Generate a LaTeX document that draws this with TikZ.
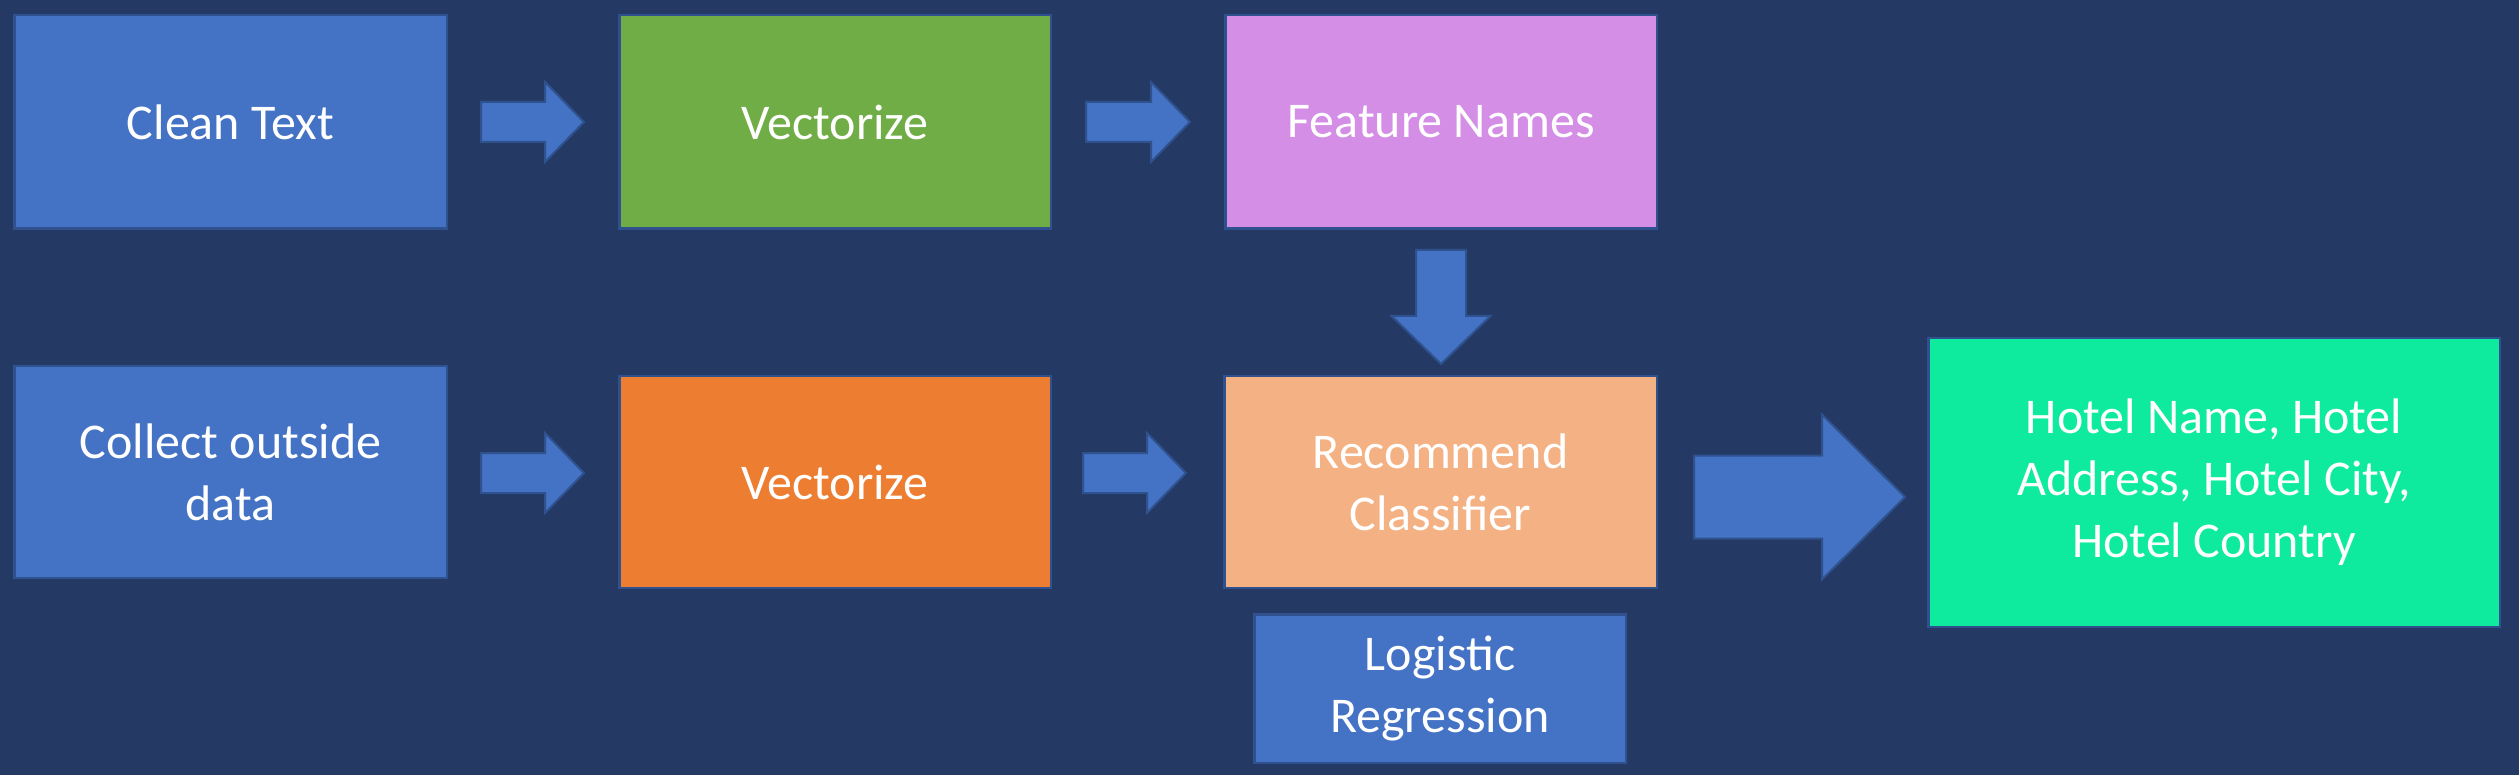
\documentclass[tikz,border=0pt]{standalone}
\usepackage{fontspec}
\setmainfont{Carlito}
\usetikzlibrary{calc}
\definecolor{bg}{RGB}{36,58,100}
\definecolor{bblue}{RGB}{68,114,196}
\definecolor{edgeblue}{RGB}{47,82,143}
\definecolor{bgreen}{RGB}{112,173,71}
\definecolor{bviolet}{RGB}{212,142,230}
\definecolor{borange}{RGB}{237,125,49}
\definecolor{bpeach}{RGB}{244,177,131}
\definecolor{bmint}{RGB}{14,235,158}
\tikzset{
  box/.style={draw=edgeblue, line width=2.5pt, text=white, align=center,
    font=\fontsize{50}{62}\selectfont, inner sep=0pt},
  fatarrow/.style={fill=bblue, draw=edgeblue, line width=2pt, line join=miter}
}
\newcommand\fatright[5]{%
  \draw[fatarrow] let \p1=(#1), \p2=(#2) in
    (\x1,\y1+#3pt) -- (\x2-#5pt,\y1+#3pt) -- (\x2-#5pt,\y1+#4pt) -- (\x2,\y1)
    -- (\x2-#5pt,\y1-#4pt) -- (\x2-#5pt,\y1-#3pt) -- (\x1,\y1-#3pt) -- cycle;}
\newcommand\fatdown[5]{%
  \draw[fatarrow] let \p1=(#1), \p2=(#2) in
    (\x1-#3pt,\y1) -- (\x1-#3pt,\y2+#5pt) -- (\x1-#4pt,\y2+#5pt) -- (\x1,\y2)
    -- (\x1+#4pt,\y2+#5pt) -- (\x1+#3pt,\y2+#5pt) -- (\x1+#3pt,\y1) -- cycle;}
\begin{document}
\begin{tikzpicture}[x=1pt,y=-1pt]
\fill[bg] (0,0) rectangle (2519,775);
\useasboundingbox (0,0) rectangle (2519,775);
% boxes
\node[box, fill=bblue, minimum width=432.5pt, minimum height=213.5pt] (clean) at (230.5,122) {Clean Text};
\node[box, fill=bgreen, minimum width=431.5pt, minimum height=213.5pt] (vec1) at (835,122) {Vectorize};
\node[box, fill=bviolet, minimum width=431.5pt, minimum height=213.5pt] (feat) at (1441,122) {Feature Names};
\node[box, fill=bblue, minimum width=432.5pt, minimum height=211.5pt] (collect) at (230.5,472) {Collect outside\\data};
\node[box, fill=borange, minimum width=431.5pt, minimum height=211.5pt] (vec2) at (835,482) {Vectorize};
\node[box, fill=bpeach, minimum width=432.5pt, minimum height=211.5pt] (rec) at (1440.5,482) {Recommend\\Classifier};
\node[box, fill=bblue, minimum width=371.5pt, minimum height=148.5pt] (logit) at (1440,688.5) {Logistic\\Regression};
\node[box, fill=bmint, minimum width=571.5pt, minimum height=288.5pt] (hotel) at (2214,482.5) {Hotel Name, Hotel\\Address, Hotel City,\\Hotel Country};
% connectors
\fatright{$(clean.east)+(33,0)$}{$(vec1.west)+(-34,0)$}{20}{40}{39}
\fatright{$(vec1.east)+(34,0)$}{$(feat.west)+(-34,0)$}{20}{40}{39}
\fatright{$(collect.east)+(33,1)$}{$(vec2.west)+(-34,1)$}{20}{40}{39}
\fatright{$(vec2.east)+(31,-9)$}{$(rec.west)+(-37,-9)$}{20}{40}{39}
\fatright{$(rec.east)+(36,15)$}{$(hotel.west)+(-22,15)$}{41.5}{82.5}{83}
\fatdown{$(feat.south)+(0,20)$}{$(rec.north)+(0,-11)$}{25}{49.5}{48}
\end{tikzpicture}
\end{document}
